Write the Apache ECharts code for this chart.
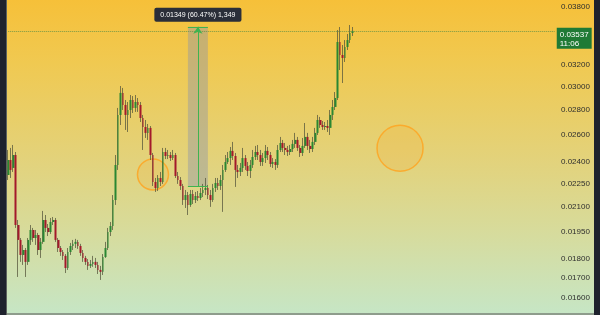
<!DOCTYPE html>
<html><head><meta charset="utf-8">
<script src="https://cdn.jsdelivr.net/npm/echarts@6/dist/echarts.min.js"></script>
<style>html,body{margin:0;padding:0;background:#1e222d;}#c{width:600px;height:315px;background:linear-gradient(to bottom,#f6c039 0%,#f0c951 20%,#e3d27a 50%,#d6dc9e 75%,#c6e6c6 100%);}</style>
</head><body><div id="c"></div>
<script>
const open=[.02306,.02411,.02355,.02447,.01988,.01902,.01819,.01846,.01782,.01902,
.01959,.01913,.01930,.01846,.01891,.02018,.01971,.01947,.02006,.02018,
.01902,.01857,.01835,.01814,.01750,.01835,.01868,.01880,.01891,.01868,
.01830,.01803,.01782,.01761,.01771,.01782,.01766,.01740,.01730,.01808,
.01857,.01947,.01982,.02141,.02376,.02756,.02942,.02839,.02756,.02797,
.02881,.02814,.02864,.02839,.02731,.02659,.02613,.02652,.02447,.02259,
.02219,.02286,.02259,.02469,.02440,.02447,.02425,.02447,.02299,.02272,
.02232,.02141,.02173,.02110,.02180,.02141,.02167,.02154,.02186,.02206,
.02219,.02173,.02141,.02219,.02252,.02232,.02272,.02341,.02397,.02425,
.02477,.02440,.02341,.02327,.02355,.02425,.02369,.02334,.02376,.02433,
.02469,.02447,.02397,.02425,.02477,.02447,.02383,.02397,.02376,.02484,
.02536,.02499,.02484,.02469,.02491,.02529,.02559,.02499,.02462,.02514,
.02582,.02514,.02491,.02544,.02613,.02715,.02675,.02659,.02667,.02652,
.02756,.02822,.02898,.03422,.03293,.03264,.03372,.03442,.03515];
const close=[.02411,.02341,.02447,.01988,.01902,.01819,.01846,.01782,.01902,.01959,
.01913,.01930,.01846,.01891,.02018,.01971,.01947,.02006,.02018,.01902,
.01857,.01835,.01814,.01750,.01835,.01868,.01880,.01891,.01868,.01830,
.01803,.01782,.01761,.01771,.01782,.01766,.01740,.01730,.01808,.01857,
.01947,.01982,.02141,.02376,.02756,.02942,.02839,.02756,.02797,.02881,
.02814,.02864,.02839,.02731,.02659,.02613,.02652,.02447,.02259,.02219,
.02286,.02259,.02469,.02440,.02447,.02425,.02447,.02299,.02272,.02232,
.02141,.02173,.02110,.02180,.02141,.02167,.02154,.02186,.02206,.02219,
.02173,.02141,.02219,.02252,.02232,.02272,.02341,.02397,.02425,.02477,
.02440,.02341,.02327,.02355,.02425,.02369,.02334,.02376,.02433,.02469,
.02447,.02397,.02425,.02477,.02447,.02383,.02397,.02376,.02484,.02536,
.02499,.02484,.02469,.02491,.02529,.02559,.02499,.02462,.02514,.02582,
.02514,.02491,.02544,.02613,.02715,.02675,.02659,.02667,.02652,.02756,
.02822,.02898,.03422,.03293,.03264,.03372,.03442,.03515,.03537];
const low=[.02272,.02286,.02327,.01971,.01704,.01782,.01766,.01704,.01766,.01874,
.01891,.01874,.01819,.01803,.01880,.01947,.01924,.01936,.01988,.01891,
.01835,.01814,.01792,.01724,.01740,.01819,.01846,.01857,.01852,.01814,
.01782,.01766,.01740,.01750,.01756,.01750,.01719,.01689,.01714,.01803,
.01846,.01924,.01959,.02110,.02341,.02675,.02797,.02636,.02620,.02731,
.02772,.02781,.02781,.02699,.02484,.02574,.02559,.02411,.02232,.02193,
.02199,.02232,.02246,.02418,.02418,.02404,.02411,.02286,.02246,.02206,
.02110,.02091,.02048,.02098,.02116,.02122,.02135,.02141,.02160,.02173,
.02147,.02098,.02129,.02193,.02206,.02206,.02067,.02327,.02383,.02376,
.02411,.02226,.02286,.02299,.02327,.02341,.02299,.02286,.02355,.02411,
.02411,.02369,.02369,.02390,.02411,.02362,.02355,.02341,.02355,.02469,
.02469,.02447,.02440,.02447,.02469,.02499,.02477,.02433,.02440,.02499,
.02484,.02462,.02469,.02521,.02597,.02652,.02636,.02636,.02620,.02597,
.02715,.02797,.02881,.03149,.03030,.03225,.03342,.03412,.03484];
const high=[.02484,.02499,.02521,.02469,.02018,.01913,.01874,.01857,.01913,.01988,
.01971,.01959,.01942,.01913,.02073,.02048,.01994,.02030,.02036,.02030,
.01913,.01868,.01846,.01824,.01857,.01885,.01902,.01908,.01902,.01880,
.01846,.01814,.01797,.01792,.01814,.01803,.01782,.01761,.01824,.01891,
.01971,.02006,.02173,.02447,.02814,.03003,.02986,.02881,.02864,.02924,
.02915,.02924,.02898,.02864,.02756,.02715,.02683,.02667,.02462,.02286,
.02306,.02327,.02499,.02499,.02484,.02469,.02484,.02462,.02327,.02292,
.02246,.02206,.02193,.02206,.02206,.02193,.02199,.02219,.02246,.02286,
.02239,.02206,.02246,.02286,.02286,.02306,.02376,.02447,.02469,.02506,
.02544,.02462,.02376,.02390,.02499,.02447,.02397,.02411,.02484,.02514,
.02521,.02484,.02462,.02521,.02506,.02469,.02425,.02418,.02521,.02582,
.02559,.02536,.02514,.02521,.02559,.02613,.02582,.02521,.02574,.02691,
.02613,.02559,.02582,.02652,.02756,.02740,.02707,.02699,.02715,.02797,
.02881,.02950,.03546,.03578,.03392,.03442,.03504,.03599,.03578];
const tickValues=[0.038,0.034,0.032,0.030,0.028,0.026,0.024,0.0225,0.021,0.0195,0.018,0.017,0.016];
const lastPrice=0.03537;
const lastTimer='11:06';
const measureStartIdx=72, measureEndIdx=80, measureLineIdx=76;
const measureLow=0.02231, measureHigh=0.0358;
const measureText='0.01349 (60.47%) 1,349';
const circleIdx=[58,157];
const circlePrice=[0.0231,0.02497];
const slotCount=220;
const categories=Array.from({length:slotCount},(_,i)=>String(i));

const circleSizes=[31,46];
const UP='#2a8732', DOWN='#a3192b', WICK='rgba(85,85,60,0.75)', MEAS='#3fb34f';
const FONT='Liberation Sans';
const measLine={color:MEAS,width:1,type:'solid'};

const chart=echarts.init(document.getElementById('c'),null,{renderer:'canvas'});
chart.setOption({
  animation:false,
  grid:{left:7,right:44,top:0,bottom:2},
  xAxis:{type:'category',data:categories,boundaryGap:true,axisLine:{show:false},axisTick:{show:false},axisLabel:{show:false},splitLine:{show:false}},
  yAxis:{type:'log',logBase:10,position:'right',min:0.015312,max:0.038763,
    axisLine:{show:false},axisTick:{show:false},splitLine:{show:false},
    axisLabel:{customValues:tickValues,formatter:v=>Number(v).toFixed(5),color:'#2e2e2e',fontSize:8,fontFamily:FONT,margin:5}},
  graphic:[
    {type:'rect',shape:{x:0,y:0,width:6,height:315},style:{fill:'#1e222d'},z:100},
    {type:'rect',shape:{x:6,y:0,width:1,height:315},style:{fill:'#5d625e'},z:100},
    {type:'rect',shape:{x:594,y:0,width:6,height:315},style:{fill:'#1e222d'},z:100},
    {type:'rect',shape:{x:7,y:313,width:587,height:2},style:{fill:'#8e9c8c'},z:100}
  ],
  series:[
    {type:'scatter',silent:true,z:1,
      data:circleIdx.map((x,i)=>[x,circlePrice[i]]),
      symbol:'circle',symbolSize:(v,p)=>circleSizes[p.dataIndex],
      itemStyle:{color:'rgba(255,160,20,0.18)',borderColor:'#ffa21e',borderWidth:1.5}},
    {type:'candlestick',silent:true,z:2,barWidth:1,
      data:open.map((o,i)=>[o,close[i],low[i],high[i]]),
      itemStyle:{color:'rgba(0,0,0,0)',color0:'rgba(0,0,0,0)',borderColor:WICK,borderColor0:WICK,borderWidth:1},
      markArea:{silent:true,
        itemStyle:{color:'rgba(140,148,170,0.42)'},
        label:{show:true,position:'top',distance:5,formatter:measureText,color:'#fff',fontSize:7,fontFamily:FONT,
          backgroundColor:'#2a2e39',padding:[4,6,3,6],borderRadius:2},
        data:[[{xAxis:measureStartIdx,yAxis:measureHigh},{xAxis:measureEndIdx,yAxis:measureLow}]]},
      markLine:{silent:true,symbol:['none','none'],label:{show:false},
        data:[
          [{coord:[0,lastPrice],lineStyle:{type:'dotted',color:'rgba(80,140,70,0.75)',width:1},
            label:{show:true,position:'end',distance:2,formatter:lastPrice.toFixed(5)+'\n'+lastTimer,
              backgroundColor:'#1f7a35',color:'#fff',fontSize:8,fontFamily:FONT,lineHeight:9,padding:[2,3,1,3],align:'left',verticalAlign:'top',offset:[0,-3]}},
           {coord:[slotCount-1,lastPrice]}],
          [{coord:[measureLineIdx,measureLow],symbol:'none',lineStyle:measLine},{coord:[measureLineIdx,measureHigh],symbol:'arrow',symbolSize:[7,7]}],
          [{coord:[measureStartIdx,measureHigh],lineStyle:measLine},{coord:[measureEndIdx,measureHigh]}],
          [{coord:[measureStartIdx,measureLow],lineStyle:measLine},{coord:[measureEndIdx,measureLow]}]
        ]
      }},
    {type:'candlestick',silent:true,z:3,barWidth:2.2,
      data:open.map((o,i)=>[o,close[i],Math.min(o,close[i]),Math.max(o,close[i])]),
      itemStyle:{color:UP,color0:DOWN,borderColor:UP,borderColor0:DOWN,borderWidth:0}}
  ]
});
</script></body></html>
